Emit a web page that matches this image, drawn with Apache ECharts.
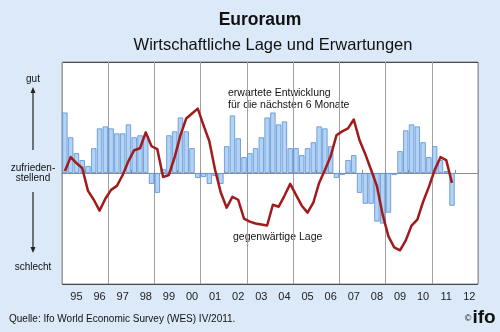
<!DOCTYPE html>
<html>
<head>
<meta charset="utf-8">
<script src="https://cdn.jsdelivr.net/npm/echarts@6/dist/echarts.min.js"></script>
<style>
html,body{margin:0;padding:0;background:#dbe9f9;}
#chart{width:500px;height:332px;}
</style>
</head>
<body>
<div id="chart"></div>
<script>
// Years shown on the axis (1995..2012), quarterly categories
var years = ['1995','1996','1997','1998','1999','2000','2001','2002','2003','2004','2005','2006','2007','2008','2009','2010','2011','2012'];
var quarters = ['Q1','Q2','Q3','Q4'];

// Expectations for next 6 months (bars), quarterly 1995Q1..2011Q4
var expectations = [
  61, 36, 20, 13,
  7, 25, 45, 47,
  45, 40, 40, 49,
  36, 38, 38, -11,
  -20, 4, 38, 42,
  56, 42, 25, -5,
  -4, -11, -3, -11,
  27, 58, 35, 16,
  20, 25, 36, 56,
  61, 49, 52, 25,
  25, 18, 25, 31,
  47, 45, 27, -5,
  -2, 13, 18, -20,
  -31, -31, -49, -51,
  -40, -2, 22, 43,
  49, 47, 31, 16,
  27, 13, 2, -33
];

// Current situation (line), quarterly 1995Q1..2011Q4
var currentSituation = [
  2, 16, 10, 5,
  -18, -27, -38, -26,
  -17, -13, -2, 12,
  23, 25, 41, 27,
  24, -4, -2, 16,
  38, 55, 60, 65,
  48, 32, 3, -20,
  -35, -24, -27, -46,
  -49, -51, -52, -53,
  -32, -34, -23, -11,
  -22, -33, -40, -30,
  -10, 3, 17, 38,
  42, 45, 54, 33,
  19, 3, -13, -42,
  -64, -75, -78, -68,
  -53, -47, -29, -14,
  3, 16, 13, -10
];

var categories = [];
years.forEach(function (y) { quarters.forEach(function (q) { categories.push(y + q); }); });

var FONT = "'Liberation Sans', Arial, sans-serif";
var chart = echarts.init(document.getElementById('chart'), null, {renderer: 'canvas'});

function txt(text, x, y, size, align, weight, color) {
  return {type: 'text', silent: true, style: {
    text: text, x: x, y: y, fill: color || '#111',
    font: (weight || 'normal') + ' ' + size + 'px ' + FONT,
    textAlign: align || 'left', textVerticalAlign: 'middle'
  }};
}

chart.setOption({
  backgroundColor: '#dbe9f9',
  animation: false,
  grid: {left: 62, top: 62, width: 416, height: 222, show: true,
         backgroundColor: '#ffffff', borderColor: '#8c8c8c', borderWidth: 1, containLabel: false},
  xAxis: {
    type: 'category', data: categories, boundaryGap: true,
    axisLine: {show: true, lineStyle: {color: '#8c8c8c', width: 1}},
    axisTick: {show: true, inside: true, length: 3,
               interval: function (i) { return i % 4 === 0; },
               lineStyle: {color: '#8c8c8c'}},
    splitLine: {show: true, interval: function (i) { return i % 8 === 0; },
                lineStyle: {color: '#a0a0a0', width: 1}},
    axisLabel: {show: true, interval: function (i) { return i % 4 === 2; },
                formatter: function (v) { return v.slice(2, 4); },
                fontFamily: FONT, fontSize: 11, color: '#222', margin: 7}
  },
  yAxis: {
    type: 'value', min: -112, max: 112, interval: 112,
    axisLine: {show: false}, axisTick: {show: false}, axisLabel: {show: false},
    splitLine: {show: true, lineStyle: {color: '#4a4a4a', width: 1}}
  },
  series: [
    {
      type: 'bar', data: expectations, barCategoryGap: '8%',
      itemStyle: {color: '#b2d3f5', borderColor: '#5a8fd2', borderWidth: 0.8},
      z: 2
    },
    {
      type: 'line', data: currentSituation, symbol: 'none', smooth: false,
      lineStyle: {color: '#a11a1c', width: 2.5, join: 'round'},
      z: 3
    }
  ],
  graphic: [
    txt('Euroraum', 260, 20, 17.5, 'center', 'bold', '#111'),
    txt('Wirtschaftliche Lage und Erwartungen', 273, 45, 16.5, 'center', 'normal', '#111'),
    txt('gut', 33, 79, 10, 'center'),
    txt('zufrieden-', 33, 168, 10, 'center'),
    txt('stellend', 33, 178, 10, 'center'),
    txt('schlecht', 33, 267, 10, 'center'),
    {type: 'line', silent: true, shape: {x1: 33, y1: 150, x2: 33, y2: 92}, style: {stroke: '#222', lineWidth: 1.2}},
    {type: 'polygon', silent: true, shape: {points: [[33, 87], [30.5, 93], [35.5, 93]]}, style: {fill: '#222'}},
    {type: 'line', silent: true, shape: {x1: 33, y1: 192, x2: 33, y2: 248}, style: {stroke: '#222', lineWidth: 1.2}},
    {type: 'polygon', silent: true, shape: {points: [[33, 253], [30.5, 247], [35.5, 247]]}, style: {fill: '#222'}},
    txt('erwartete Entwicklung', 228, 93, 10.5, 'left'),
    txt('für die nächsten 6 Monate', 228, 105.5, 10.5, 'left'),
    txt('gegenwärtige Lage', 233, 237, 10.5, 'left'),
    txt('Quelle: Ifo World Economic Survey (WES) IV/2011.', 9, 319, 10, 'left'),
    txt('©', 468, 319, 9, 'center'),
    txt('ifo', 484, 318, 19, 'center', 'bold', '#111')
  ]
});
</script>
</body>
</html>
